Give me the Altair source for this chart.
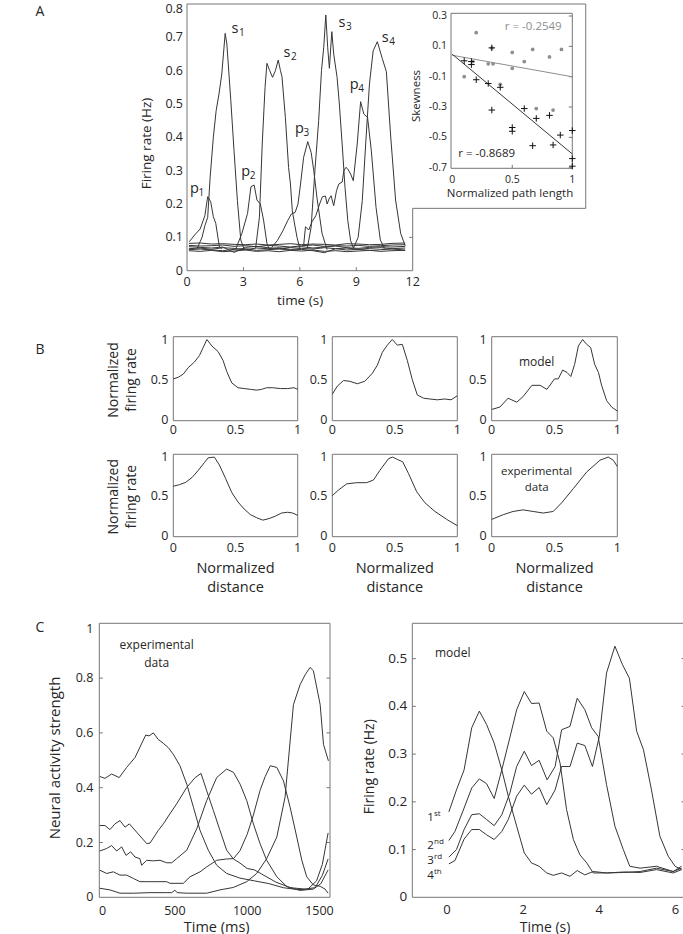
import altair as alt
import pandas as pd

W, H = 683, 934
FONT = "Open Sans"
INK = "#262626"
TRACE = "#363636"
FRAME = "#767676"
GREY = "#8e8e8e"

# ---------------- A: firing rates of place (p) and sequence (s) cells ----------------
A_P1_T = [0.12, 0.45, 0.7, 0.95, 1.1, 1.26, 1.4, 1.53, 1.72, 1.85]
A_P1_V = [0.087, 0.11, 0.125, 0.165, 0.222, 0.207, 0.162, 0.142, 0.072, 0.066]
A_S1_T = [0.55, 0.8, 0.95, 1.1, 1.23, 1.4, 1.55, 1.7, 1.85, 2.03, 2.12, 2.33, 2.5, 2.68, 2.86, 3.05]
A_S1_V = [0.068, 0.1, 0.135, 0.16, 0.28, 0.4, 0.48, 0.53, 0.59, 0.712, 0.68, 0.51, 0.36, 0.21, 0.092, 0.062]
A_P2_T = [2.6, 2.92, 3.22, 3.4, 3.57, 3.72, 3.9, 4.07, 4.25, 4.38]
A_P2_V = [0.066, 0.112, 0.172, 0.252, 0.257, 0.212, 0.2, 0.152, 0.082, 0.064]
A_S2_T = [3.65, 3.85, 4.0, 4.15, 4.25, 4.4, 4.55, 4.7, 4.85, 4.97, 5.05, 5.23, 5.4, 5.5, 5.6, 5.72, 5.85, 6.0]
A_S2_V = [0.068, 0.16, 0.38, 0.55, 0.622, 0.6, 0.58, 0.6, 0.632, 0.6, 0.582, 0.46, 0.31, 0.26, 0.18, 0.14, 0.1, 0.067]
A_P3_T = [4.5, 4.8, 5.1, 5.35, 5.55, 5.75, 5.9, 6.03, 6.2, 6.42, 6.6, 6.74, 6.92, 7.18, 7.45]
A_P3_V = [0.07, 0.09, 0.12, 0.15, 0.17, 0.175, 0.2, 0.257, 0.34, 0.387, 0.355, 0.3, 0.215, 0.112, 0.063]
A_S3_T = [6.4, 6.6, 6.8, 7.0, 7.15, 7.27, 7.38, 7.48, 7.57, 7.7, 7.8, 7.98, 8.1, 8.25, 8.4, 8.55, 8.7, 8.85]
A_S3_V = [0.068, 0.13, 0.3, 0.45, 0.6, 0.67, 0.767, 0.67, 0.607, 0.717, 0.65, 0.58, 0.5, 0.38, 0.25, 0.15, 0.09, 0.067]
A_P4_T = [6.2, 6.3, 6.47, 6.65, 6.85, 7.05, 7.2, 7.36, 7.45, 7.55, 7.66, 7.8, 7.95, 8.07, 8.25, 8.34,
          8.45, 8.55, 8.7, 8.84, 9.05, 9.23, 9.4, 9.6, 9.8, 10.05, 10.28, 10.5]
A_P4_V = [0.075, 0.132, 0.122, 0.147, 0.165, 0.2, 0.222, 0.224, 0.2, 0.215, 0.225, 0.195, 0.24, 0.26, 0.266, 0.3,
          0.31, 0.305, 0.29, 0.27, 0.38, 0.507, 0.47, 0.46, 0.36, 0.19, 0.092, 0.067]
A_S4_T = [8.85, 9.1, 9.32, 9.5, 9.7, 9.9, 10.12, 10.38, 10.6, 10.82, 11.09, 11.36, 11.6]
A_S4_V = [0.068, 0.1, 0.21, 0.38, 0.56, 0.66, 0.687, 0.637, 0.597, 0.41, 0.212, 0.112, 0.075]

# silent cells forming the baseline band
A_BASE_T = [0.1, 0.7, 1.3, 1.9, 2.5, 3.1, 3.7, 4.3, 4.9, 5.5, 6.1, 6.7, 7.3, 7.9, 8.5, 9.1, 9.7, 10.3, 10.9, 11.6]
A_BASE_1 = [0.082, 0.083, 0.080, 0.081, 0.079, 0.078, 0.080, 0.077, 0.079, 0.081, 0.078, 0.080, 0.079, 0.077, 0.081, 0.080, 0.078, 0.079, 0.082, 0.083]
A_BASE_2 = [0.076, 0.074, 0.075, 0.077, 0.073, 0.075, 0.072, 0.076, 0.074, 0.071, 0.075, 0.077, 0.073, 0.075, 0.074, 0.076, 0.073, 0.075, 0.077, 0.078]
A_BASE_3 = [0.072, 0.070, 0.068, 0.071, 0.055, 0.070, 0.073, 0.069, 0.066, 0.070, 0.072, 0.068, 0.071, 0.074, 0.069, 0.067, 0.070, 0.072, 0.071, 0.073]
A_BASE_4 = [0.063, 0.065, 0.062, 0.060, 0.064, 0.066, 0.061, 0.063, 0.065, 0.062, 0.064, 0.060, 0.054, 0.066, 0.062, 0.064, 0.061, 0.063, 0.065, 0.062]
A_BASE_5 = [0.060, 0.058, 0.061, 0.057, 0.059, 0.062, 0.058, 0.060, 0.057, 0.061, 0.059, 0.062, 0.058, 0.060, 0.057, 0.059, 0.061, 0.058, 0.060, 0.061]
A_BASE_6 = [0.066, 0.068, 0.064, 0.069, 0.067, 0.063, 0.068, 0.066, 0.069, 0.064, 0.067, 0.065, 0.069, 0.066, 0.068, 0.064, 0.067, 0.069, 0.066, 0.068]

A_LABEL_T = [2.55, 5.32, 8.24, 10.54, 0.40, 3.12, 5.98, 8.89]
A_LABEL_V = [0.712, 0.640, 0.732, 0.687, 0.233, 0.285, 0.412, 0.544]
A_LABEL_BASE = ["s", "s", "s", "s", "p", "p", "p", "p"]
A_LABEL_SUB = ["1", "2", "3", "4", "1", "2", "3", "4"]

A_X_TICKS = [0, 3, 6, 9, 12]
A_Y_TICKS = [0, 0.1, 0.2, 0.3, 0.4, 0.5, 0.6, 0.7, 0.8]

# outline of the axes box, which steps out to hold the inset
A_BOX_T = [0, 21.2, 21.2, 12, 12, 0, 0]
A_BOX_V = [0.8, 0.8, 0.187, 0.187, 0, 0, 0.8]

# inset: skewness vs normalized path length
IN_DOT_X = [0.2, 0.1, 0.33, 0.3, 0.34, 0.17, 0.4, 0.5, 0.5, 0.6, 0.67, 0.81, 0.91, 0.7, 0.84]
IN_DOT_Y = [0.19, -0.1, 0.09, -0.015, -0.015, 0.0, -0.15, 0.06, -0.045, 0.0, 0.08, 0.03, 0.08, -0.31, -0.32]
IN_PLUS_X = [0.1, 0.16, 0.16, 0.2, 0.3, 0.33, 0.33, 0.4, 0.5, 0.5, 0.6, 0.7, 0.67, 0.81, 0.84, 0.9, 1.0, 1.0, 1.0]
IN_PLUS_Y = [0.005, 0.0, -0.02, -0.12, -0.145, 0.09, -0.32, -0.17, -0.435, -0.46, -0.31, -0.375, -0.555,
             -0.355, -0.55, -0.485, -0.455, -0.64, -0.69]
IN_R_TEXT = ["r = -0.2549", "r = -0.8689"]
IN_R_X = [0.675, 0.287]
IN_R_Y = [0.226, -0.61]
IN_X_TICKS = [0, 0.5, 1]
IN_Y_TICKS = [0.3, 0.1, -0.1, -0.3, -0.5, -0.7]

# ---------------- B: normalized tuning along the path ----------------
B1_X = [0, 0.04, 0.08, 0.12, 0.17, 0.21, 0.24, 0.27, 0.31, 0.36, 0.4, 0.43, 0.47, 0.52, 0.57, 0.62, 0.67, 0.71, 0.75, 0.8, 0.86, 0.92, 0.97, 1.0]
B1_Y = [0.51, 0.53, 0.57, 0.65, 0.72, 0.8, 0.9, 1.0, 0.92, 0.85, 0.74, 0.6, 0.46, 0.4, 0.39, 0.38, 0.37, 0.38, 0.4, 0.4, 0.39, 0.39, 0.4, 0.38]
B2_X = [0, 0.04, 0.09, 0.14, 0.2, 0.26, 0.32, 0.36, 0.4, 0.44, 0.48, 0.52, 0.56, 0.6, 0.64, 0.68, 0.73, 0.78, 0.84, 0.9, 0.95, 1.0]
B2_Y = [0.32, 0.42, 0.49, 0.48, 0.45, 0.48, 0.58, 0.68, 0.84, 0.93, 1.0, 0.93, 0.94, 0.74, 0.5, 0.31, 0.27, 0.26, 0.25, 0.26, 0.25, 0.3]
B3_X = [0, 0.066, 0.13, 0.2, 0.25, 0.32, 0.385, 0.44, 0.5, 0.53, 0.565, 0.6, 0.63, 0.66, 0.69, 0.724, 0.756, 0.788, 0.82, 0.85, 0.875, 0.915, 0.955, 1.0]
B3_Y = [0.13, 0.16, 0.27, 0.22, 0.29, 0.43, 0.43, 0.38, 0.51, 0.51, 0.62, 0.59, 0.54, 0.69, 0.92, 1.0, 0.94, 0.9, 0.69, 0.59, 0.43, 0.24, 0.16, 0.11]
B4_X = [0, 0.05, 0.1, 0.15, 0.2, 0.25, 0.28, 0.33, 0.37, 0.42, 0.47, 0.52, 0.57, 0.62, 0.67, 0.72, 0.77, 0.82, 0.87, 0.92, 0.96, 1.0]
B4_Y = [0.63, 0.65, 0.68, 0.74, 0.83, 0.93, 0.99, 1.0, 0.9, 0.73, 0.55, 0.43, 0.34, 0.27, 0.23, 0.2, 0.22, 0.25, 0.29, 0.3, 0.29, 0.26]
B5_X = [0, 0.048, 0.115, 0.195, 0.275, 0.33, 0.38, 0.45, 0.483, 0.52, 0.563, 0.61, 0.675, 0.741, 0.821, 0.915, 1.0]
B5_Y = [0.51, 0.58, 0.66, 0.675, 0.675, 0.71, 0.83, 0.98, 1.0, 0.97, 0.94, 0.79, 0.56, 0.42, 0.31, 0.21, 0.13]
B6_X = [0, 0.093, 0.17, 0.25, 0.33, 0.41, 0.49, 0.557, 0.65, 0.756, 0.862, 0.928, 0.968, 1.0]
B6_Y = [0.21, 0.27, 0.31, 0.33, 0.31, 0.29, 0.31, 0.42, 0.6, 0.81, 0.96, 1.0, 0.96, 0.88]
B_TICKS = [0, 0.5, 1]

# ---------------- C: sequential activity, data and model ----------------
CA_T = [-20, 16, 62, 115, 166, 224, 298, 321, 351, 385, 420, 455, 489, 535, 582, 628, 674, 731, 789, 858,
        950, 1050, 1150, 1250, 1350, 1420, 1480, 1520, 1560]
CA_V = [0.441, 0.434, 0.45, 0.437, 0.474, 0.51, 0.592, 0.589, 0.6, 0.576, 0.562, 0.546, 0.522, 0.48, 0.413,
        0.329, 0.244, 0.172, 0.117, 0.087, 0.07, 0.06, 0.05, 0.035, 0.028, 0.03, 0.06, 0.12, 0.235]
CB_T = [-20, 16, 51, 85, 120, 155, 185, 235, 305, 328, 385, 420, 466, 512, 582, 640, 681, 720, 766, 812,
        858, 905, 950, 1000, 1050, 1100, 1200, 1300, 1400, 1470, 1520, 1560]
CB_V = [0.262, 0.262, 0.247, 0.268, 0.28, 0.256, 0.268, 0.238, 0.196, 0.198, 0.244, 0.268, 0.305, 0.341,
        0.401, 0.437, 0.452, 0.389, 0.317, 0.244, 0.172, 0.14, 0.125, 0.105, 0.1, 0.085, 0.055, 0.035, 0.03,
        0.035, 0.08, 0.14]
CC_T = [-20, 28, 62, 97, 132, 162, 194, 224, 258, 270, 305, 351, 397, 443, 478, 512, 582, 651, 720, 789,
        858, 905, 951, 997, 1043, 1089, 1135, 1205, 1274, 1366, 1458, 1510, 1560]
CC_V = [0.169, 0.178, 0.189, 0.169, 0.184, 0.153, 0.166, 0.147, 0.141, 0.117, 0.135, 0.133, 0.135, 0.126,
        0.126, 0.141, 0.172, 0.25, 0.353, 0.437, 0.468, 0.456, 0.413, 0.353, 0.268, 0.196, 0.135, 0.075,
        0.039, 0.025, 0.03, 0.05, 0.1]
CD_T = [-20, 28, 74, 120, 166, 212, 258, 328, 397, 443, 466, 558, 605, 674, 720, 789, 858, 905, 950, 1000,
        1043, 1089, 1124, 1160, 1205, 1251, 1297, 1343, 1378, 1412, 1458, 1505, 1539, 1560]
CD_V = [0.099, 0.087, 0.093, 0.081, 0.081, 0.069, 0.057, 0.057, 0.057, 0.057, 0.051, 0.051, 0.075, 0.093,
        0.111, 0.135, 0.14, 0.141, 0.17, 0.23, 0.3, 0.39, 0.44, 0.48, 0.474, 0.425, 0.329, 0.22, 0.135, 0.075,
        0.045, 0.04, 0.03, 0.015]
CE_T = [-20, 51, 120, 212, 328, 443, 478, 500, 515, 582, 720, 812, 905, 997, 1066, 1135, 1205, 1262, 1320,
        1366, 1401, 1435, 1458, 1482, 1505, 1528, 1562]
CE_V = [0.033, 0.027, 0.015, 0.015, 0.017, 0.017, 0.017, 0.026, 0.017, 0.015, 0.015, 0.027, 0.036, 0.057,
        0.087, 0.141, 0.22, 0.365, 0.703, 0.776, 0.812, 0.839, 0.827, 0.764, 0.703, 0.558, 0.498]
CL_X_TICKS = [0, 500, 1000, 1500]
CL_Y_TICKS = [0, 0.2, 0.4, 0.6, 0.8, 1]
CL_TEXT = ["experimental", "data"]
CL_TEXT_X = [374, 374]
CL_TEXT_Y = [0.921, 0.856]

CR1_T = [0.05, 0.25, 0.45, 0.65, 0.85, 1.04, 1.24, 1.44, 1.61, 1.83, 2.03, 2.22, 2.42, 2.62, 2.79, 3.01,
         3.23, 3.42, 3.62, 3.84, 4.19, 4.63, 5.07, 5.5, 5.94, 6.16]
CR1_V = [0.179, 0.225, 0.267, 0.355, 0.39, 0.362, 0.323, 0.267, 0.212, 0.149, 0.093, 0.072, 0.065, 0.051,
         0.046, 0.051, 0.044, 0.056, 0.047, 0.054, 0.051, 0.052, 0.054, 0.061, 0.054, 0.061]
CR2_T = [0.05, 0.21, 0.45, 0.65, 0.85, 1.04, 1.24, 1.44, 1.65, 1.83, 2.03, 2.22, 2.42, 2.62, 2.79, 2.97,
         3.14, 3.32, 3.49, 3.67, 3.84, 4.19, 4.63, 5.07, 5.5, 5.94, 6.16]
CR2_V = [0.119, 0.138, 0.187, 0.229, 0.248, 0.238, 0.207, 0.267, 0.334, 0.393, 0.431, 0.406, 0.407, 0.348,
         0.334, 0.281, 0.184, 0.121, 0.089, 0.072, 0.051, 0.051, 0.053, 0.052, 0.058, 0.051, 0.058]
CR3_T = [0.05, 0.25, 0.45, 0.65, 0.85, 1.04, 1.24, 1.44, 1.65, 1.83, 2.03, 2.22, 2.42, 2.63, 2.84, 3.01,
         3.23, 3.42, 3.62, 3.8, 3.97, 4.19, 4.41, 4.63, 4.8, 5.07, 5.5, 5.94, 6.16]
CR3_V = [0.084, 0.1, 0.142, 0.173, 0.175, 0.163, 0.15, 0.173, 0.218, 0.274, 0.306, 0.276, 0.287, 0.246,
         0.274, 0.351, 0.358, 0.417, 0.393, 0.355, 0.337, 0.236, 0.149, 0.1, 0.065, 0.061, 0.065, 0.054, 0.065]
CR4_T = [0.05, 0.21, 0.45, 0.65, 0.85, 1.04, 1.24, 1.44, 1.61, 1.83, 2.03, 2.22, 2.42, 2.62, 2.84, 3.01,
         3.23, 3.42, 3.62, 3.82, 4.0, 4.19, 4.41, 4.61, 4.79, 4.98, 5.16, 5.37, 5.59, 5.81, 5.99, 6.16]
CR4_V = [0.07, 0.077, 0.122, 0.142, 0.142, 0.131, 0.121, 0.138, 0.163, 0.212, 0.235, 0.216, 0.23, 0.194,
         0.225, 0.274, 0.274, 0.323, 0.318, 0.274, 0.337, 0.47, 0.526, 0.487, 0.459, 0.348, 0.309, 0.225,
         0.128, 0.086, 0.065, 0.058]
CR_X_TICKS = [0, 2, 4, 6]
CR_Y_TICKS = [0, 0.1, 0.2, 0.3, 0.4, 0.5]
CR_ORD_NUM = ["1", "2", "3", "4"]
CR_ORD_SUP = ["st", "nd", "rd", "th"]
CR_ORD_X = [-0.432, -0.432, -0.432, -0.432]
CR_ORD_Y = [0.1605, 0.1006, 0.0698, 0.0377]
CR_TEXT_X = [0.151]
CR_TEXT_Y = [0.512]

# axis titles and panel letters: text, centre x, centre y, size, angle
TITLES = [
    ("Firing rate (Hz)", 147, 143.5, 13.5, 270),
    ("time (s)", 300, 300.5, 13.5, 0),
    ("Skewness", 417, 96, 11.5, 270),
    ("Normalized path length", 510, 194, 11.5, 0),
    ("Normalized", 114, 380, 14, 270),
    ("firing rate", 132, 380, 14, 270),
    ("Normalized", 114, 496.7, 14, 270),
    ("firing rate", 132, 496.7, 14, 270),
    ("Normalized", 235.5, 569.3, 14.5, 0),
    ("distance", 235.5, 588.3, 14.5, 0),
    ("Normalized", 394.8, 569.3, 14.5, 0),
    ("distance", 394.8, 588.3, 14.5, 0),
    ("Normalized", 554.5, 569.3, 14.5, 0),
    ("distance", 554.5, 588.3, 14.5, 0),
    ("Neural activity strength", 55, 758, 15, 270),
    ("Time (ms)", 216.7, 927.5, 14.5, 0),
    ("Firing rate (Hz)", 370, 766.7, 14, 270),
    ("Time (s)", 545, 927.5, 14, 0),
    ("A", 40, 12, 14, 0),
    ("B", 40, 350, 14, 0),
    ("C", 40, 628, 14, 0),
]


class Panel:
    """Axes placed at fixed pixel ranges inside one shared canvas."""

    def __init__(self, xd, xr, yd, yr):
        self.xd, self.xr, self.yd, self.yr = xd, xr, yd, yr

    def X(self, field="x"):
        return alt.X(f"{field}:Q", scale=alt.Scale(domain=self.xd, range=self.xr, nice=False, zero=False),
                     axis=None)

    def Y(self, field="y"):
        return alt.Y(f"{field}:Q", scale=alt.Scale(domain=self.yd, range=self.yr, nice=False, zero=False),
                     axis=None)

    def ux(self, px):
        return px * (self.xd[1] - self.xd[0]) / (self.xr[1] - self.xr[0])

    def uy(self, px):
        return px * (self.yd[1] - self.yd[0]) / (self.yr[0] - self.yr[1])

    def frame(self):
        df = pd.DataFrame({"x": [self.xd[0]], "x2": [self.xd[1]], "y": [self.yd[0]], "y2": [self.yd[1]]})
        return alt.Chart(df).mark_rect(fill="transparent", stroke=FRAME, strokeWidth=1).encode(
            x=self.X(), x2="x2:Q", y=self.Y(), y2="y2:Q")

    def yticks(self, values, sides=("left", "right"), length=3.5):
        rows = []
        for v in values:
            if "left" in sides:
                rows.append({"x": self.xd[0], "x2": self.xd[0] + self.ux(length), "y": v})
            if "right" in sides:
                rows.append({"x": self.xd[1], "x2": self.xd[1] - self.ux(length), "y": v})
        return alt.Chart(pd.DataFrame(rows)).mark_rule(color=FRAME, strokeWidth=1).encode(
            x=self.X(), x2="x2:Q", y=self.Y())

    def xticks(self, values, length=3.5):
        rows = [{"x": v, "y": self.yd[0], "y2": self.yd[0] + self.uy(length)} for v in values]
        return alt.Chart(pd.DataFrame(rows)).mark_rule(color=FRAME, strokeWidth=1).encode(
            x=self.X(), y=self.Y(), y2="y2:Q")

    def ylabels(self, values, size, pad, top_drop=0):
        # the label at the top edge sits a little lower so that it stays inside the figure
        df = pd.DataFrame({"x": [self.xd[0]] * len(values), "y": values,
                           "t": [f"{v:g}" for v in values]})
        top = max(values)
        out = []
        for part, drop in ((df[df.y != top], 0), (df[df.y == top], top_drop)):
            out.append(alt.Chart(part).mark_text(fontSize=size, color=INK, align="right", baseline="middle",
                                                 dx=-pad, dy=drop).encode(x=self.X(), y=self.Y(), text="t:N"))
        return alt.layer(*out)

    def xlabels(self, values, size, pad, fmt="{:g}"):
        df = pd.DataFrame({"x": values, "y": [self.yd[0]] * len(values), "t": [fmt.format(v) for v in values]})
        return alt.Chart(df).mark_text(fontSize=size, color=INK, align="center", baseline="middle",
                                       dy=pad).encode(x=self.X(), y=self.Y(), text="t:N")


def long_frame(series):
    rows = []
    for name, xs, ys in series:
        for i, (a, b) in enumerate(zip(xs, ys)):
            rows.append({"s": name, "i": i, "x": a, "y": b})
    return pd.DataFrame(rows)


def traces(p, series, width=1.0):
    return alt.Chart(long_frame(series)).mark_line(color=TRACE, strokeWidth=width).encode(
        x=p.X(), y=p.Y(), detail="s:N")


def note(p, texts, xs, ys, size, color=INK):
    df = pd.DataFrame({"x": xs, "y": ys, "t": texts})
    return alt.Chart(df).mark_text(fontSize=size, color=color, align="center", baseline="middle").encode(
        x=p.X(), y=p.Y(), text="t:N")


layers = []

# ---- A, main axes ----
pa = Panel([0, 12], [187, 412.7], [0, 0.8], [270.7, 4])
a_series = [("p1", A_P1_T, A_P1_V), ("s1", A_S1_T, A_S1_V), ("p2", A_P2_T, A_P2_V), ("s2", A_S2_T, A_S2_V),
            ("p3", A_P3_T, A_P3_V), ("s3", A_S3_T, A_S3_V), ("p4", A_P4_T, A_P4_V), ("s4", A_S4_T, A_S4_V)]
a_series += [(f"b{k}", A_BASE_T, vals) for k, vals in
             enumerate([A_BASE_1, A_BASE_2, A_BASE_3, A_BASE_4, A_BASE_5, A_BASE_6])]
a_box = alt.Chart(pd.DataFrame({"x": A_BOX_T, "y": A_BOX_V, "i": list(range(len(A_BOX_T)))})).mark_line(
    color=FRAME, strokeWidth=1).encode(x=pa.X(), y=pa.Y(), order="i:O")
a_lab = pd.DataFrame({"x": A_LABEL_T, "y": A_LABEL_V, "b": A_LABEL_BASE, "s": A_LABEL_SUB})
layers.append(alt.layer(
    a_box,
    pa.xticks([3, 6, 9]),
    pa.yticks([0.1], sides=("right",)),
    traces(pa, a_series),
    pa.xlabels(A_X_TICKS, 12.5, 11),
    pa.ylabels(A_Y_TICKS, 12.5, 4, top_drop=5.3),
    alt.Chart(a_lab).mark_text(fontSize=14.5, color=INK, align="center", baseline="alphabetic").encode(
        x=pa.X(), y=pa.Y(), text="b:N"),
    alt.Chart(a_lab).mark_text(fontSize=10, color=INK, align="left", baseline="alphabetic",
                               dx=4, dy=3).encode(x=pa.X(), y=pa.Y(), text="s:N"),
))

# ---- A, inset ----
pi = Panel([-0.01, 1.0], [451, 572.3], [-0.704, 0.318], [168.3, 13.3])
dots = pd.DataFrame({"x": IN_DOT_X, "y": IN_DOT_Y})
plus = pd.DataFrame({"x": IN_PLUS_X, "y": IN_PLUS_Y})
layers.append(alt.layer(
    pi.frame(),
    pi.yticks(IN_Y_TICKS, sides=("right",)),
    pi.xticks([0.5]),
    pi.xlabels(IN_X_TICKS, 10.5, 11.5),
    pi.ylabels(IN_Y_TICKS, 10.5, 4),
    alt.Chart(dots).transform_regression("x", "y", extent=[0, 1]).mark_line(color=GREY, strokeWidth=1).encode(
        x=pi.X(), y=pi.Y()),
    alt.Chart(plus).transform_regression("x", "y", extent=[0, 1]).mark_line(color=TRACE, strokeWidth=1).encode(
        x=pi.X(), y=pi.Y()),
    alt.Chart(dots).mark_circle(size=14, color=GREY, opacity=1).encode(x=pi.X(), y=pi.Y()),
    alt.Chart(plus).mark_point(shape="M-1,0L1,0M0,-1L0,1", size=42, filled=False, color="#111111",
                               strokeWidth=1, opacity=1).encode(x=pi.X(), y=pi.Y()),
    note(pi, IN_R_TEXT[:1], IN_R_X[:1], IN_R_Y[:1], 11.5, color=GREY),
    note(pi, IN_R_TEXT[1:], IN_R_X[1:], IN_R_Y[1:], 11.5),
))

# ---- B, six small tuning panels ----
B_COLS = [[173.3, 297.7], [332.3, 457.3], [491.7, 617.3]]
B_ROWS = [[420.7, 336.7], [536.7, 454.3]]
B_XLABEL_PAD = [9.5, 11.5]
B_CURVES = [[(B1_X, B1_Y), (B2_X, B2_Y), (B3_X, B3_Y)],
            [(B4_X, B4_Y), (B5_X, B5_Y), (B6_X, B6_Y)]]
for r in range(2):
    for c in range(3):
        pb = Panel([0, 1], B_COLS[c], [-0.01, 1.035], B_ROWS[r])
        xs, ys = B_CURVES[r][c]
        parts = [pb.frame(), traces(pb, [("b", xs, ys)]),
                 pb.xlabels(B_TICKS, 12.5, B_XLABEL_PAD[r]), pb.ylabels(B_TICKS, 12.5, 5)]
        if r == 0 and c == 2:
            parts.append(note(pb, ["model"], [0.358], [0.717], 12))
        if r == 1 and c == 2:
            parts.append(note(pb, ["experimental", "data"], [0.358, 0.358], [0.805, 0.605], 11.5))
        layers.append(alt.layer(*parts))

# ---- C, experimental data ----
pcl = Panel([-23, 1573], [99.3, 330], [0, 1.0], [897.3, 623.3])
cl_series = [("a", CA_T, CA_V), ("b", CB_T, CB_V), ("c", CC_T, CC_V), ("d", CD_T, CD_V), ("e", CE_T, CE_V)]
layers.append(alt.layer(
    pcl.frame(),
    pcl.yticks([0.2, 0.4, 0.6, 0.8]),
    traces(pcl, cl_series),
    pcl.xlabels(CL_X_TICKS, 12.5, 14, fmt="{:d}"),
    pcl.ylabels(CL_Y_TICKS, 12.5, 6, top_drop=5.7),
    note(pcl, CL_TEXT, CL_TEXT_X, CL_TEXT_Y, 12),
))

# ---- C, model ----
pcr = Panel([-0.91, 6.25], [412.3, 685], [0, 0.574], [897.3, 623.3])
cr_series = [("1", CR1_T, CR1_V), ("2", CR2_T, CR2_V), ("3", CR3_T, CR3_V), ("4", CR4_T, CR4_V)]
ords = pd.DataFrame({"x": CR_ORD_X, "y": CR_ORD_Y, "n": CR_ORD_NUM, "s": CR_ORD_SUP})
layers.append(alt.layer(
    pcr.frame(),
    pcr.yticks([0.1, 0.2, 0.3, 0.4, 0.5]),
    traces(pcr, cr_series),
    pcr.xlabels(CR_X_TICKS, 13, 13, fmt="{:d}"),
    pcr.ylabels(CR_Y_TICKS, 13.5, 5),
    alt.Chart(ords).mark_text(fontSize=11.5, color=INK, align="center", baseline="alphabetic").encode(
        x=pcr.X(), y=pcr.Y(), text="n:N"),
    alt.Chart(ords).mark_text(fontSize=8, color=INK, align="left", baseline="alphabetic", dx=3.5, dy=-5).encode(
        x=pcr.X(), y=pcr.Y(), text="s:N"),
    note(pcr, ["model"], CR_TEXT_X, CR_TEXT_Y, 12),
))

# ---- axis titles and panel letters ----
for text, px, py, size, angle in TITLES:
    layers.append(alt.Chart(pd.DataFrame({"t": [text]})).mark_text(
        fontSize=size, color=INK, align="center", baseline="middle", angle=angle).encode(
        x=alt.value(px), y=alt.value(py), text="t:N"))

chart = alt.layer(*layers).resolve_scale(x="independent", y="independent").properties(
    width=W, height=H, autosize=alt.AutoSizeParams(type="none"), padding=0
).configure(font=FONT).configure_view(strokeWidth=0)

chart.save("out.html", embed_options={"renderer": "svg", "actions": False})
